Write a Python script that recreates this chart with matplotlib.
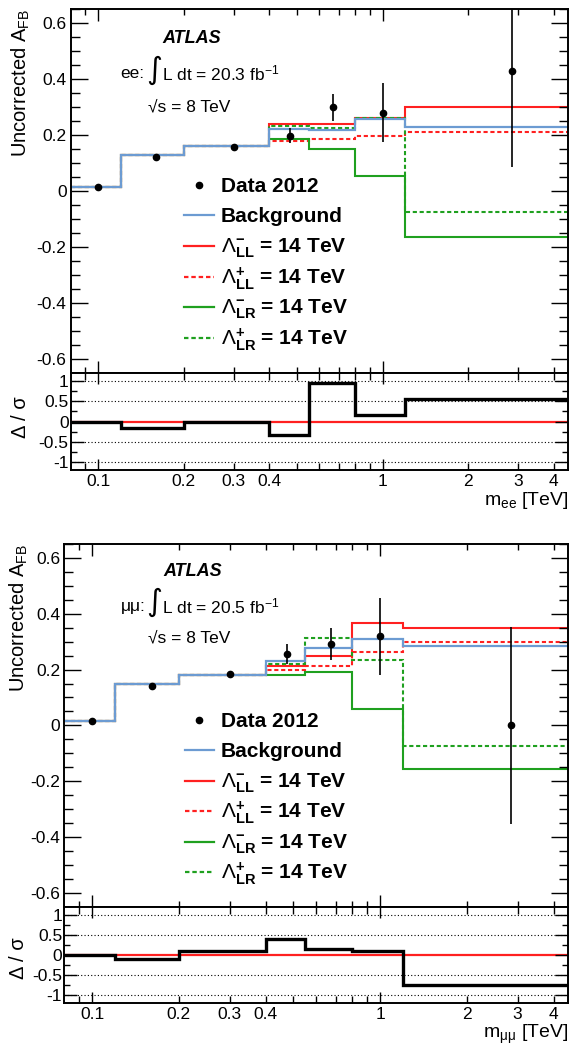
import numpy as np
import matplotlib
matplotlib.use('Agg')
import matplotlib.pyplot as plt
from matplotlib.ticker import FixedLocator, FuncFormatter, MultipleLocator, NullFormatter

plt.rcParams['font.family'] = ['Liberation Sans', 'DejaVu Sans']
plt.rcParams['mathtext.fontset'] = 'custom'
plt.rcParams['mathtext.rm'] = 'Liberation Sans'
plt.rcParams['mathtext.it'] = 'Liberation Sans:italic'
plt.rcParams['mathtext.bf'] = 'Liberation Sans:bold'
plt.rcParams['axes.unicode_minus'] = False

# mass bin edges [TeV]
edges = [0.08, 0.12, 0.2, 0.4, 0.55, 0.8, 1.2, 4.5]

# ee channel
bkg_ee = [0.013, 0.129, 0.159, 0.220, 0.217, 0.256, 0.227]
llm_ee = [0.013, 0.129, 0.159, 0.238, 0.241, 0.262, 0.299]
llp_ee = [0.013, 0.129, 0.159, 0.180, 0.184, 0.195, 0.209]
lrm_ee = [0.013, 0.129, 0.159, 0.185, 0.149, 0.054, -0.166]
lrp_ee = [0.013, 0.129, 0.159, 0.232, 0.224, 0.260, -0.074]
data_x_ee = [0.1, 0.16, 0.30, 0.474, 0.67, 1.0, 2.85]
data_y_ee = [0.014, 0.122, 0.158, 0.197, 0.299, 0.279, 0.430]
data_err_ee = [0.004, 0.005, 0.005, 0.027, 0.049, 0.105, 0.343]
ratio_ee = [0.0, -0.165, -0.015, -0.345, 0.945, 0.17, 0.555]

# mumu channel
bkg_mm = [0.017, 0.148, 0.181, 0.229, 0.277, 0.310, 0.285]
llm_mm = [0.017, 0.148, 0.181, 0.213, 0.249, 0.368, 0.350]
llp_mm = [0.017, 0.148, 0.181, 0.199, 0.213, 0.264, 0.299]
lrm_mm = [0.017, 0.148, 0.181, 0.179, 0.190, 0.060, -0.155]
lrp_mm = [0.017, 0.148, 0.181, 0.219, 0.313, 0.236, -0.073]
data_x_mm = [0.1, 0.161, 0.30, 0.475, 0.676, 1.0, 2.85]
data_y_mm = [0.015, 0.142, 0.185, 0.255, 0.292, 0.320, 0.0]
data_err_mm = [0.004, 0.005, 0.005, 0.035, 0.058, 0.138, 0.353]
ratio_mm = [0.0, -0.107, 0.09, 0.393, 0.148, 0.09, -0.754]

legend_labels = ['Data 2012', 'Background',
                 r'$\Lambda^{\mathbf{-}}_{\mathbf{LL}}$ = 14 TeV',
                 r'$\Lambda^{\mathbf{+}}_{\mathbf{LL}}$ = 14 TeV',
                 r'$\Lambda^{\mathbf{-}}_{\mathbf{LR}}$ = 14 TeV',
                 r'$\Lambda^{\mathbf{+}}_{\mathbf{LR}}$ = 14 TeV']

c_bkg = '#6c9bd2'
c_red = '#ff2020'
c_green = '#1fa01f'
dash = (0, (2.0, 1.3))

W, H = 571, 1048
fig = plt.figure(figsize=(W / 100, H / 100), dpi=100)


def rect(left, right, top, bottom):
    return [left / W, 1 - bottom / H, (right - left) / W, (bottom - top) / H]


minor_x = [0.09, 0.2, 0.3, 0.4, 0.5, 0.6, 0.7, 0.8, 0.9, 2, 3, 4]
minor_lab = {0.2: '0.2', 0.3: '0.3', 0.4: '0.4', 2.0: '2', 3.0: '3', 4.0: '4'}


def xaxis_setup(ax, labels, maj_len, min_len):
    ax.set_xscale('log')
    ax.set_xlim(0.08, 4.5)
    ax.xaxis.set_major_locator(FixedLocator([0.1, 1.0]))
    ax.xaxis.set_minor_locator(FixedLocator(minor_x))
    if labels:
        ax.xaxis.set_major_formatter(FuncFormatter(lambda v, p: '%g' % v))
        ax.xaxis.set_minor_formatter(FuncFormatter(lambda v, p: minor_lab.get(round(v, 2), '')))
    else:
        ax.xaxis.set_major_formatter(NullFormatter())
        ax.xaxis.set_minor_formatter(NullFormatter())
    ax.tick_params(axis='x', which='major', length=maj_len, width=1.0)
    ax.tick_params(axis='x', which='minor', length=min_len, width=1.0)
    ax.tick_params(axis='x', which='both', direction='in', top=True, bottom=True,
                   labelsize=12.5, pad=3)
    for s in ax.spines.values():
        s.set_linewidth(1.4)


def draw_channel(main_box, ratio_box, bkg, llm, llp, lrm, lrp, dx, dy, derr, ratio,
                 chan, lumi, xlab, txt, leg, ylab_x, rlab):
    ax = fig.add_axes(main_box)
    ax.stairs(llm, edges, baseline=None, color=c_red, lw=1.5)
    ax.stairs(llp, edges, baseline=None, color=c_red, lw=1.5, linestyle=dash)
    ax.stairs(lrm, edges, baseline=None, color=c_green, lw=1.5)
    ax.stairs(lrp, edges, baseline=None, color=c_green, lw=1.5, linestyle=dash)
    ax.stairs(bkg, edges, baseline=None, color=c_bkg, lw=1.6)
    ax.errorbar(dx, dy, yerr=derr, fmt='o', color='black', ms=4.5, lw=1.2,
                capsize=0, clip_on=True)
    ax.set_ylim(-0.65, 0.65)
    ax.yaxis.set_major_locator(MultipleLocator(0.2))
    ax.yaxis.set_minor_locator(MultipleLocator(0.05))
    ax.yaxis.set_major_formatter(FuncFormatter(lambda v, p: '%g' % round(v, 2)))
    ax.tick_params(axis='y', which='major', length=12.5, width=1.0)
    ax.tick_params(axis='y', which='minor', length=6.5, width=1.0)
    ax.tick_params(axis='y', which='both', direction='in', left=True, right=True,
                   labelsize=12.5, pad=3)
    xaxis_setup(ax, False, 8.4, 4.3)
    ax.text(ylab_x, 1.0, r'Uncorrected A$_{\mathrm{FB}}$', transform=ax.transAxes,
            rotation=90, ha='center', va='top', fontsize=14.5)

    ax.text(txt['atlas'][0], txt['atlas'][1], 'ATLAS', transform=ax.transAxes,
            fontsize=13, fontweight='bold', fontstyle='italic', va='center')
    ax.text(txt['chan'][0], txt['lumi_y'], chan, transform=ax.transAxes,
            fontsize=12.5, va='center')
    ax.text(txt['int'], txt['lumi_y'] + 0.01, '\u222b', transform=ax.transAxes,
            fontsize=22, va='center', ha='center', family='DejaVu Sans')
    ax.text(txt['lumi_x'], txt['lumi_y'], lumi, transform=ax.transAxes,
            fontsize=12.5, va='center')
    ax.text(txt['rs'][0], txt['rs'][1], '\u221as = 8 TeV', transform=ax.transAxes,
            fontsize=12.5, va='center')

    # legend
    x0, x1, xm, xt, y0, dyl = leg
    styles = [None, (c_bkg, '-'), (c_red, '-'), (c_red, dash), (c_green, '-'), (c_green, dash)]
    for i, (lab, st) in enumerate(zip(legend_labels, styles)):
        yy = y0 - i * dyl
        if st is None:
            ax.plot([xm], [yy], 'o', color='black', ms=4.5, transform=ax.transAxes)
        else:
            ax.plot([x0, x1], [yy, yy], color=st[0], ls=st[1], lw=1.6, transform=ax.transAxes)
        ax.text(xt, yy - 0.019, lab, transform=ax.transAxes, fontsize=15,
                fontweight='bold', va='baseline')

    rx = fig.add_axes(ratio_box)
    for v in [-1, -0.5, 0.5, 1]:
        rx.axhline(v, color='black', ls=(0, (1, 2)), lw=0.8)
    rx.stairs(np.zeros(len(ratio)), edges, baseline=None, color=c_red, lw=1.6)
    rx.stairs(ratio, edges, baseline=None, color='black', lw=2.4)
    rx.set_ylim(-1.2, 1.2)
    rx.yaxis.set_major_locator(FixedLocator([-1, -0.5, 0, 0.5, 1]))
    rx.yaxis.set_minor_locator(MultipleLocator(0.25))
    rx.yaxis.set_major_formatter(FuncFormatter(lambda v, p: '%g' % v))
    rx.tick_params(axis='y', which='major', length=9.4, width=1.0)
    rx.tick_params(axis='y', which='minor', length=4.3, width=1.0)
    rx.tick_params(axis='y', which='both', direction='in', left=True, right=True,
                   labelsize=12.5, pad=1.5)
    xaxis_setup(rx, True, 8.0, 5.0)
    rx.text(1.0, -0.205, xlab, transform=rx.transAxes, ha='right', va='top', fontsize=14)
    rx.text(ylab_x, rlab, '\u0394 / \u03c3', transform=rx.transAxes, rotation=90,
            ha='center', va='center', fontsize=14.5)


draw_channel(rect(70.7, 568.3, 9, 373), rect(70.7, 568.3, 373, 470),
             bkg_ee, llm_ee, llp_ee, lrm_ee, lrp_ee,
             data_x_ee, data_y_ee, data_err_ee, ratio_ee,
             'ee:', r'L dt = 20.3 fb$^{-1}$', r'm$_{\mathrm{ee}}$ [TeV]',
             {'atlas': (0.184, 0.919), 'chan': (0.1005, 0), 'int': 0.1668,
              'lumi_x': 0.184, 'lumi_y': 0.822, 'rs': (0.156, 0.732)},
             (0.2277, 0.2886, 0.2582, 0.3016, 0.5165, 0.0838), -0.1, 0.54)

draw_channel(rect(64.3, 568.3, 544, 906.7), rect(64.3, 568.3, 906.7, 1003.3),
             bkg_mm, llm_mm, llp_mm, lrm_mm, lrp_mm,
             data_x_mm, data_y_mm, data_err_mm, ratio_mm,
             '\u03bc\u03bc:', r'L dt = 20.5 fb$^{-1}$', r'm$_{\mathrm{\mu\mu}}$ [TeV]',
             {'atlas': (0.196, 0.924), 'chan': (0.112, 0), 'int': 0.179,
              'lumi_x': 0.194, 'lumi_y': 0.828, 'rs': (0.1667, 0.74)},
             (0.2395, 0.297, 0.2677, 0.3103, 0.5147, 0.0838), -0.09, 0.472)

fig.savefig('out.png', dpi=100)
